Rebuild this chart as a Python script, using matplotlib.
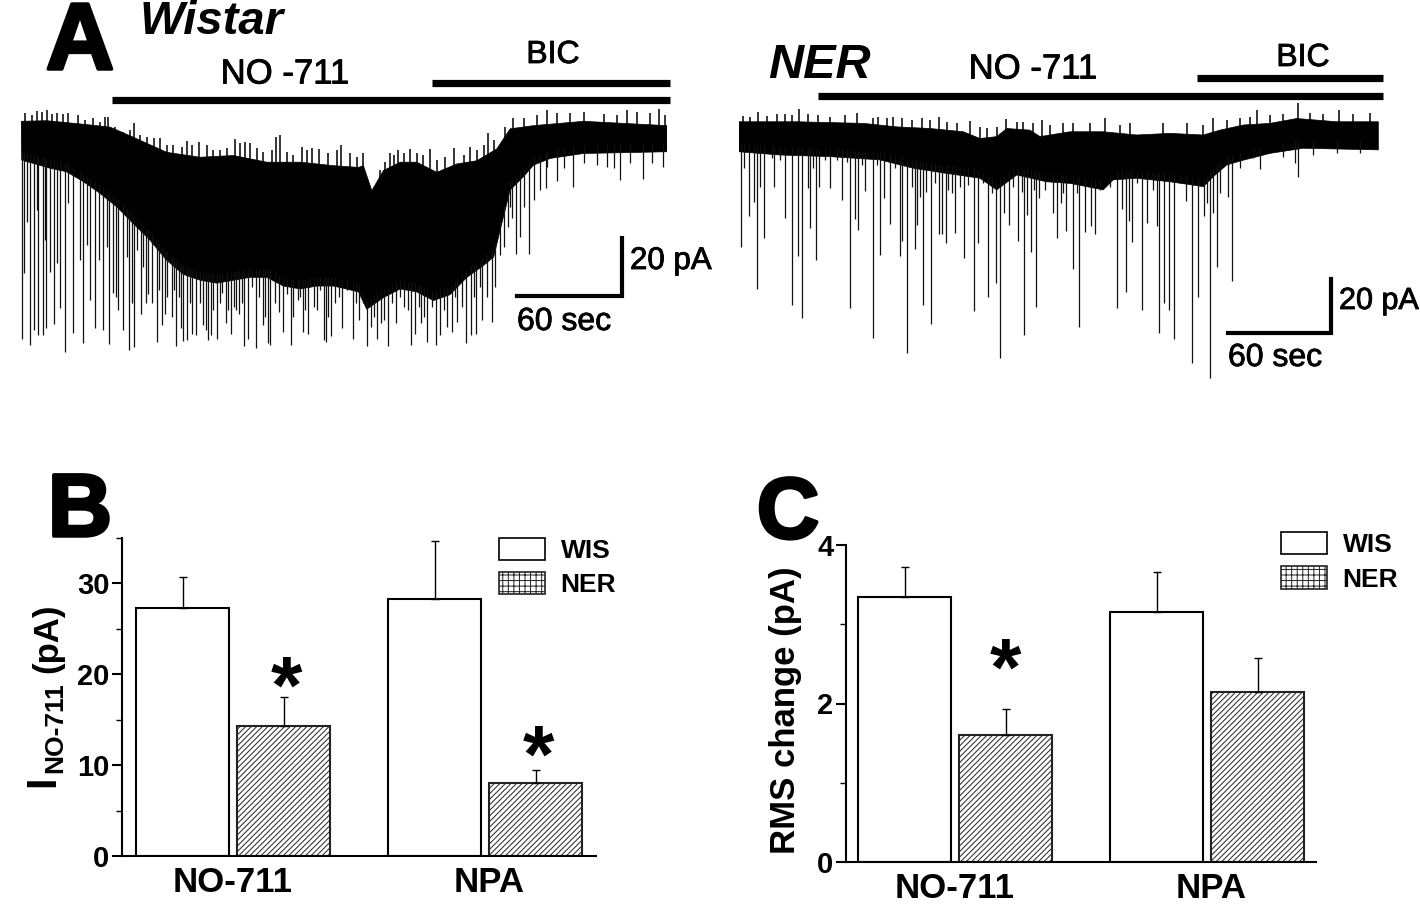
import matplotlib
matplotlib.use('Agg')
import matplotlib.pyplot as plt
import matplotlib.patheffects as pe
from matplotlib.patches import Patch
from matplotlib.ticker import MultipleLocator
import numpy as np

plt.rcParams['font.family'] = ['Liberation Sans', 'DejaVu Sans']
plt.rcParams['hatch.linewidth'] = 0.7

# --- panel A: time (s), current (pA, from the top of the record)
wistar_up_t = [0, 14.7, 33.7, 50.9, 64.2, 83.3, 102.3, 121.4, 140.4, 159.5, 178.5, 192.8, 195.6, 200.4,
               207, 216.6, 226.1, 237.5, 249, 260.4, 271.8, 279.4, 292.8, 321.4, 369]
wistar_up_i = [-0.7, -0.5, -1.6, -2.7, -6.2, -11.4, -13.1, -12.5, -14.8, -14.8, -16, -16.6, -16, -24.6,
               -17.7, -14.8, -14.8, -18.3, -15.4, -14.3, -10.2, -3.3, -2.2, -0.7, -2.2]
wistar_low_t = [0.4, 7, 16.6, 26, 35.6, 45, 54.7, 64, 73.7, 83, 92.8, 102.3, 111.8, 121.4, 130.9, 140.4,
                149.9, 159.5, 169, 178.5, 192.8, 197.5, 207, 216.6, 226, 235.6, 245, 254.7, 264, 270,
                273.7, 279.4, 287, 292.8, 302.3, 321.4, 369]
wistar_low_i = [-16.6, -17.7, -19.4, -20.6, -24, -28, -32.7, -38.4, -44.2, -51, -56, -58, -59,
                -58, -57, -57, -60, -61, -60, -60, -62, -68, -64, -61, -62, -65,
                -63, -57, -53, -50, -40.7, -26.9, -22.3, -18.3, -16, -14.3, -13.7]
wistar_spike_t = [0.4, 1.7, 5.1, 7.6, 9.9, 12.4, 14.3, 18.9, 22.3, 25.1, 29.9, 35.2, 39.4, 42.1, 46.7, 50.5,
                  52.8, 55.6, 58.1, 61.5, 64.6, 68.4, 71.4, 74.7, 77.5, 80.8, 83.3, 86.1, 88.8, 91.4, 92.8,
                  95.1, 97.5, 100, 104.2, 105.5, 107, 108.4, 111.8, 115, 117, 119.8, 122.7, 124.8, 127.6,
                  129.7, 134.1, 138.1, 141, 142.3, 147.6, 149.5, 154.1, 158.1, 161, 163.8, 167.1, 169,
                  172.8, 174.3, 177.2, 179.5, 183.3, 189.6, 192.8, 197.5, 199.8, 203.6, 207.1, 209.5,
                  214.3, 218.5, 222.7, 225.1, 228.6, 231.8, 237, 239.4, 243.6, 246.1, 249.3, 254.1, 257,
                  260, 263.6, 269, 273.7, 276, 278.1, 280.4, 282.7, 285, 290.1, 293.3, 296.2, 299.8,
                  306.1, 315.3, 342.3, 355.3, 366.7]
wistar_spike_i = [-78.1, -55.6, -80.4, -75, -76.9, -76.9, -74.6, -73.2, -67.7, -82.9, -76.1, -79.6, -64.9,
                  -74.3, -75.2, -80, -62.5, -68.3, -75.2, -81.9, -81, -69.7, -66, -66, -79.2, -73.5, -63.7,
                  -70.6, -80.7, -74.3, -78.9, -78.7, -76.4, -76.9, -73.5, -75.2, -78.7, -76.9, -78.1,
                  -62.5, -72.9, -76.7, -68.3, -69.5, -80.7, -78.4, -81.2, -73.5, -79.8, -80.4, -68.9,
                  -75.8, -80.5, -64.9, -75.8, -76.4, -67.2, -68.3, -78.7, -79.2, -77.3, -66, -74.6, -78.4,
                  -71.7, -80.7, -74, -78.1, -71.7, -80.7, -72.9, -67.2, -80.4, -76.4, -72.9, -79.2, -80.4,
                  -76.9, -74, -75.8, -72.3, -79.8, -76.9, -76.4, -71.7, -72.3, -49.3, -46.5, -39.6, -36.7,
                  -48.8, -43, -48.8, -30.4, -26.9, -26.3, -23.7, -25.8, -23.5, -23.2, -18.9]
wistar_short_t = [3.2, 9, 13.7, 16.6, 20.4, 27.1, 33.7, 37.9, 44.8, 49, 54.3, 60.4, 63.2, 66.5, 69.9, 72.8, 79,
                  82.3, 87.4, 90.1, 96.6, 102.3, 109.9, 113.7, 118.5, 121.4, 126.1, 131.8, 136.2, 139.4,
                  145.2, 151.8, 155.6, 159.5, 162.3, 165.2, 170.9, 175.6, 181.4, 186.1, 191.5, 195.2,
                  201.7, 205.5, 211.8, 216.6, 220.8, 227.1, 230.3, 234.7, 241.7, 248, 251.8, 258.5, 261.9,
                  266.1, 270.5, 279.4, 287.1, 300.4, 309.9, 321.4, 329, 334.7, 338.5, 348, 360.4]
wistar_short_i = [-37.8, -33.8, -44.2, -55.1, -52.2, -31.5, -51, -45.9, -51, -46.5, -63.7, -49.9, -66, -47.6,
                  -53.4, -62.6, -61.4, -69.5, -61.4, -63.7, -66, -66, -68.3, -66, -68.3, -67.2, -66, -60.3,
                  -63.7, -70.6, -66, -62.6, -70.6, -63.7, -68.3, -60.3, -61.4, -70.6, -63.7, -61.4, -66,
                  -66, -70.6, -72.9, -66, -63.7, -68.3, -67.2, -70.6, -67.2, -68.3, -63.7, -67.2, -63.7,
                  -60.3, -63.7, -60.3, -32.7, -32.7, -18.9, -19.4, -17.7, -18.3, -18.9, -19.4, -17.7, -17.7]
wistar_peak_t = [14.7, 49.9, 64.8, 79.4, 94.7, 101.7, 122.3, 128, 145.7, 148, 160.4, 166.1, 170.5, 182.7,
                 210.9, 215.1, 222.3, 233.7, 247.6, 256.6, 266.5, 300.4, 346.1, 364.2,
                 2.3, 6.1, 9, 11.8, 17.5, 20.4, 24.2, 27.1, 32.8, 36.6, 41.3, 45.2, 48, 53.7, 58.5, 62.3, 68,
                 71.8, 76, 83.3, 87.1, 91.8, 97.5, 106.1, 109.9, 113.7, 117.5, 125.2, 130.9, 134.7, 138.5,
                 143.3, 151.8, 155.6, 163.3, 175.6, 180.4, 188, 191.8, 195.6, 205.1, 208, 212.8, 218.5,
                 226.1, 229.9, 237.5, 242.3, 252.8, 260.4, 264.2, 269.9, 276.6, 281.3, 287.1, 294.7, 306.1,
                 313.7, 321.4, 332.8, 340.4, 351.8, 359.5, 368]
wistar_peak_i = [0.7, -1.6, -3.7, -9.1, -9.9, -10.5, -9.4, -10.2, -8.5, -7.9, -11.9, -12.5, -12.9, -11.4,
                 -14, -13.1, -12.9, -12.9, -12.5, -11.9, -7.1, 0.7, 0.7, 0.9,
                 -0.2, -1, 0.5, 0.1, -0.7, -0.2, -0.7, -0.2, -1, -2.7, -2.2, -3.3, -1.8, -5.1, -6.8, -6.2, -7.9,
                 -8.5, -9.1, -11.4, -11.4, -12, -11.4, -11.4, -13.1, -13.1, -12.5, -10.8, -10.8, -12.5, -13.7,
                 -13.1, -13.7, -14.8, -13.1, -14.3, -13.1, -14.3, -15.4, -14.3, -20, -17.1, -14.8, -14.3,
                 -14.3, -14.8, -16.6, -15.4, -14.8, -13.1, -11.4, -9.7, -5, -2.2, -2.2, -1, -0.5,
                 -0.2, 0.1, -0.7, -1, 0.1, -0.5, -1]

ner_up_t = [0, 33.6, 72.4, 91.9, 111.3, 130.7, 140.4, 150.1, 156, 169.5, 175.4, 192.8, 212.2, 231.6, 251,
            270.5, 280.2, 293.8, 309.3, 324.9, 348.2, 372.4]
ner_up_i = [0, 0, -0.6, -1.9, -2.5, -3.7, -6.2, -5.5, -2.5, -3.1, -5.5, -3.7, -3.7, -4.9, -4.3, -4.9, -3.1,
            -1.2, -0.6, 1.2, 0, 0]
ner_low_t = [0, 23.9, 53, 82.1, 101.6, 121, 140.4, 150.1, 161.8, 179.2, 192.8, 212.2, 218, 231.6, 251,
             270.5, 276.3, 284.1, 293.8, 309.3, 328.7, 372.4]
ner_low_i = [-13.6, -14.8, -15.4, -16.6, -19.7, -21.6, -23.4, -27.7, -22.2, -24.7, -25.3, -27.7, -24, -23.4,
             -24.7, -26.5, -22.8, -18.5, -16.7, -14.2, -12.3, -12.9]
ner_spike_t = [1.2, 3.1, 5.8, 8.9, 10.3, 12.2, 14.8, 20.4, 26.8, 30.7, 34.4, 36.7, 40.4, 41.6, 44.9, 46.8, 53.2,
               59.8, 64.5, 67.6, 69.5, 73.4, 78.3, 82, 84.5, 88, 93.6, 95, 97.9, 102.5, 103.5, 107, 108.8,
               111.9, 116.5, 118.5, 120.6, 123.9, 125.8, 131.3, 136.7, 139.4, 145.1, 149.7, 152.3, 154.4,
               157.5, 162.8, 166.1, 167.6, 170.1, 172.9, 175, 183.1, 185.1, 187.4, 190.5, 194.4, 198.3,
               201.5, 204.8, 207.4, 220, 222.9, 225.4, 227.2, 228.9, 234.6, 237.5, 243.7, 244.8, 247.8,
               250.5, 253.6, 260.2, 263.7, 267.6, 270.9, 274.4, 275.9, 278.4, 284.9, 287.4, 303.5, 323.9,
               325.8]
ner_spike_i = [-48.7, -19.7, -37.4, -32.1, -64.5, -26.5, -45.4, -26.5, -38.2, -70.3, -52.2, -75.2, -27.1,
               -41.9, -53.6, -26.5, -27.1, -31.4, -71.5, -38.6, -42.5, -28, -82.6, -51.8, -30.8, -40.3, -52,
               -46.5, -88.2, -49.6, -40.7, -70.3, -28.4, -77.4, -44, -44, -47.5, -29, -43.8, -52.8, -72.5,
               -47.5, -67.2, -62, -90, -36.4, -40.7, -46.5, -81.4, -37, -50.8, -70.9, -30.8, -36.4, -45.6,
               -32.7, -42.8, -57, -78.3, -43.2, -41.1, -44, -71.5, -34.9, -65.6, -39.1, -47.1, -72.1, -39.8,
               -41.1, -80.5, -69.7, -72.1, -83, -31.7, -91.9, -67.5, -37.2, -97.4, -36.1, -56.1, -30.5,
               -61.3, -20.1, -17.9, -23.1]
ner_short_t = [19, 23.9, 43.3, 50.1, 56.9, 62.7, 71.5, 80.2, 90.9, 100.6, 105.5, 114.2, 122, 128.8, 133.6,
               142.4, 147.2, 159.8, 164.7, 171.9, 178.3, 189, 196.7, 210.3, 216.1, 231.6, 241.4, 256.9,
               272.4, 280.2, 291.8, 299.6, 317.1, 334.6, 348.2, 361.8]
ner_short_i = [-16, -16.6, -19.7, -16.6, -16.6, -17.3, -18.5, -18.5, -19.7, -26.5, -30.2, -25.3, -27.7, -26.5,
               -25.9, -25.3, -29, -26.5, -28.4, -27.7, -27.7, -29, -29, -27.7, -26.5, -25.3, -27.7, -25.3,
               -32.7, -29, -19.7, -16, -15.4, -14.8, -14.2, -14.2]
ner_peak_t = [11.3, 35, 68.6, 116.7, 134.6, 155.6, 176.3, 213.2, 276.3, 301.6, 325.4, 349.7,
              2.5, 6.4, 16.1, 22, 26.8, 30.7, 40.4, 46.2, 53, 61.8, 78.3, 81.2, 86, 89.9, 94.8, 100.6, 106.4,
              111.3, 121, 126.8, 140.4, 144.3, 150.1, 161.8, 165.7, 171.5, 181.2, 189, 194.8,
              204.5, 221.9, 227.8, 247.2, 260.8, 270.5, 284.1, 291.8, 297.7, 309.3, 317.1, 332.6, 340.4,
              357.9, 367.6]
ner_peak_i = [1.2, 2.1, 0.6, -0.6, -2.1, -1.6, -1.8, -1.2, -1.2, 1.9, 4.3, 1.9,
              -0.4, -0.6, -0.4, 0.4, 0.4, 0, 0.4, 0, -0.6, 0, -1.2, -0.6, -1.2, -0.6, -1.2, -1.8, -1.2,
              -1.8, -2.5, -3.1, -4.3, -4.9, -4.3, -2.5, -2.5, -3.1, -3.7, -3.1, -3.1,
              -3.1, -3.7, -3.1, -3.1, -3.1, -3.7, -1.9, -1.2, -0.6, 0, 0.4, 0.9, 0.4,
              0.4, 0.6]

# --- panels B and C
groups = ['NO-711', 'NPA']
b_wis = [27.2, 28.2]
b_wis_err = [3.5, 6.4]
b_ner = [14.3, 8.0]
b_ner_err = [3.2, 1.4]
c_wis = [3.34, 3.15]
c_wis_err = [0.38, 0.51]
c_ner = [1.6, 2.15]
c_ner_err = [0.33, 0.42]

W, H = 1420, 908
fig = plt.figure(figsize=(W / 100, H / 100), dpi=100)


def px_axes(left, top, right, bottom):
    return fig.add_axes([left / W, 1 - bottom / H, (right - left) / W, (bottom - top) / H])


def draw_trace(ax, up_t, up_i, low_t, low_i, spike_t, spike_i, short_t, short_i, peak_t, peak_i):
    solid_top = np.array(up_i) - 2.5
    ax.fill(list(up_t) + list(low_t)[::-1], list(solid_top) + list(low_i)[::-1], color='black', lw=0.5)
    t = np.concatenate([spike_t, short_t])
    i = np.concatenate([spike_i, short_i])
    ax.vlines(t, i, np.interp(t, low_t, low_i) + 3, color='#111111', lw=0.9)
    ax.vlines(peak_t, np.interp(peak_t, up_t, solid_top) - 2, peak_i, color='black', lw=1.1)
    ax.axis('off')


# Wistar trace, 105 px = 60 s and 58 px = 20 pA
ax_w = px_axes(21, 100, 667, 360)
draw_trace(ax_w, wistar_up_t, wistar_up_i, wistar_low_t, wistar_low_i, wistar_spike_t, wistar_spike_i,
           wistar_short_t, wistar_short_i, wistar_peak_t, wistar_peak_i)
ax_w.set_xlim(0, 369)
ax_w.set_ylim(-85.5, 4.14)
ax_w.plot([343.4 - 60, 343.4, 343.4], [-63.5, -63.5, -43.5], color='black', lw=3, solid_joinstyle='miter',
          clip_on=False)

# NER trace, 103 px = 60 s and 54 px = 20 pA
ax_n = px_axes(739, 100, 1379, 385)
draw_trace(ax_n, ner_up_t, ner_up_i, ner_low_t, ner_low_i, ner_spike_t, ner_spike_i,
           ner_short_t, ner_short_i, ner_peak_t, ner_peak_i)
ax_n.set_xlim(0, 372.8)
ax_n.set_ylim(-99.9, 5.55)
ax_n.plot([344.8 - 60, 344.8, 344.8], [-80.7, -80.7, -60.7], color='black', lw=3, solid_joinstyle='miter',
          clip_on=False)


def draw_bars(ax, wis, wis_err, ner, ner_err, top, minor, major, asterisks):
    x = np.arange(len(groups))
    w = 93 / 252
    off = 50.5 / 252
    ax.bar(x - off, wis, w, color='white', edgecolor='black', lw=1.5)
    ax.bar(x + off, ner, w, color='white', edgecolor='#222222', hatch='//////', lw=1.5)
    ax.errorbar(x - off, wis, yerr=[[0, 0], wis_err], fmt='none', ecolor='black', elinewidth=1, capsize=3)
    ax.errorbar(x + off, ner, yerr=[[0, 0], ner_err], fmt='none', ecolor='black', elinewidth=1, capsize=3)
    ax.set_ylim(0, top)
    ax.set_xticks([0, 1 + 4 / 252], groups, fontsize=25, fontweight='bold')
    ax.tick_params(axis='x', length=0, pad=7)
    ax.yaxis.set_major_locator(MultipleLocator(major))
    ax.yaxis.set_minor_locator(MultipleLocator(minor))
    ax.tick_params(axis='y', which='major', length=7, width=1.5, labelsize=21, pad=2)
    ax.tick_params(axis='y', which='minor', length=4, width=1)
    for lab in ax.get_yticklabels():
        lab.set_fontweight('bold')
    for s in ['top', 'right']:
        ax.spines[s].set_visible(False)
    ax.spines['left'].set_linewidth(1.5)
    ax.spines['bottom'].set_linewidth(1.5)
    ax.patch.set_alpha(0)
    handles = [Patch(facecolor='white', edgecolor='black', lw=1.2, label='WIS'),
               Patch(facecolor='white', edgecolor='#222222', hatch='+++', lw=1.2, label='NER')]
    for i, yv, dx in asterisks:
        ax.text(i + off + dx, yv, '*', fontsize=58, fontweight='bold', ha='center', va='center_baseline')
    return handles


def bold_legend(ax, handles, anchor):
    leg = ax.legend(handles=handles, loc='upper left', bbox_to_anchor=anchor, frameon=False, fontsize=19,
                    handlelength=1.74, handleheight=0.91, labelspacing=0.34, handletextpad=0.6, borderpad=0,
                    borderaxespad=0)
    for t in leg.get_texts():
        t.set_fontweight('bold')


# panel B
ax_b = px_axes(122, 537.5, 596, 856)
ax_b.set_xlim(-111 / 252, 363 / 252)
h = draw_bars(ax_b, b_wis, b_wis_err, b_ner, b_ner_err, 35, 5, 10, [(0, 19.0, 3 / 252), (1, 11.4, 3 / 252)])
bold_legend(ax_b, h, (377 / 474, 1.0))

# panel C
ax_c = px_axes(846, 545, 1316, 862)
ax_c.set_xlim(-109 / 252, 361 / 252)
h = draw_bars(ax_c, c_wis, c_wis_err, c_ner, c_ner_err, 4, 1, 2, [(0, 2.48, 0)])
bold_legend(ax_c, h, (435 / 470, 1.04))

# overlay for the labels and drug bars, in reference pixels
ov = fig.add_axes([0, 0, 1, 1], zorder=5)
ov.set_xlim(0, W)
ov.set_ylim(H, 0)
ov.axis('off')
for x0, x1, y in [(112, 670, 100), (432, 670, 83), (818, 1383, 96), (1197, 1383, 78)]:
    ov.plot([x0, x1], [y, y], color='black', lw=5.2, solid_capstyle='butt')


def label(x, y, s, size, **kw):
    kw.setdefault('ha', 'center')
    kw.setdefault('va', 'center')
    return ov.text(x, y, s, fontsize=size, **kw)


thin = [pe.withStroke(linewidth=0.6, foreground='black')]
label(285, 74, 'NO -711', 25, path_effects=thin)
label(553, 55, 'BIC', 23, path_effects=thin)
label(1033, 69, 'NO -711', 25, path_effects=thin)
label(1303, 58, 'BIC', 23, path_effects=thin)
label(630, 261, '20 pA', 22.5, ha='left', path_effects=thin)
label(517, 322, '60 sec', 23, ha='left', path_effects=thin)
label(1339, 301, '20 pA', 22, ha='left', path_effects=thin)
label(1228, 358, '60 sec', 23, ha='left', path_effects=thin)
label(140, 22, 'Wistar', 34, ha='left', fontweight='bold', style='italic')
label(768, 66, 'NER', 35, ha='left', fontweight='bold', style='italic')

fat = [pe.withStroke(linewidth=2.5, foreground='black')]
label(80, 69, 'A', 68, va='baseline', fontweight='bold', path_effects=fat)
label(80, 536, 'B', 64, va='baseline', fontweight='bold', path_effects=fat)
label(788, 538, 'C', 62, va='baseline', fontweight='bold', path_effects=fat)

label(785, 710, 'RMS change (pA)', 25, rotation=90, fontweight='bold')
label(43, 781, 'I', 30, rotation=90, fontweight='bold')
label(55, 728, 'NO-711', 19, rotation=90, fontweight='bold')
label(48, 638, '(pA)', 25, rotation=90, fontweight='bold')

fig.savefig('out.png', dpi=100)
